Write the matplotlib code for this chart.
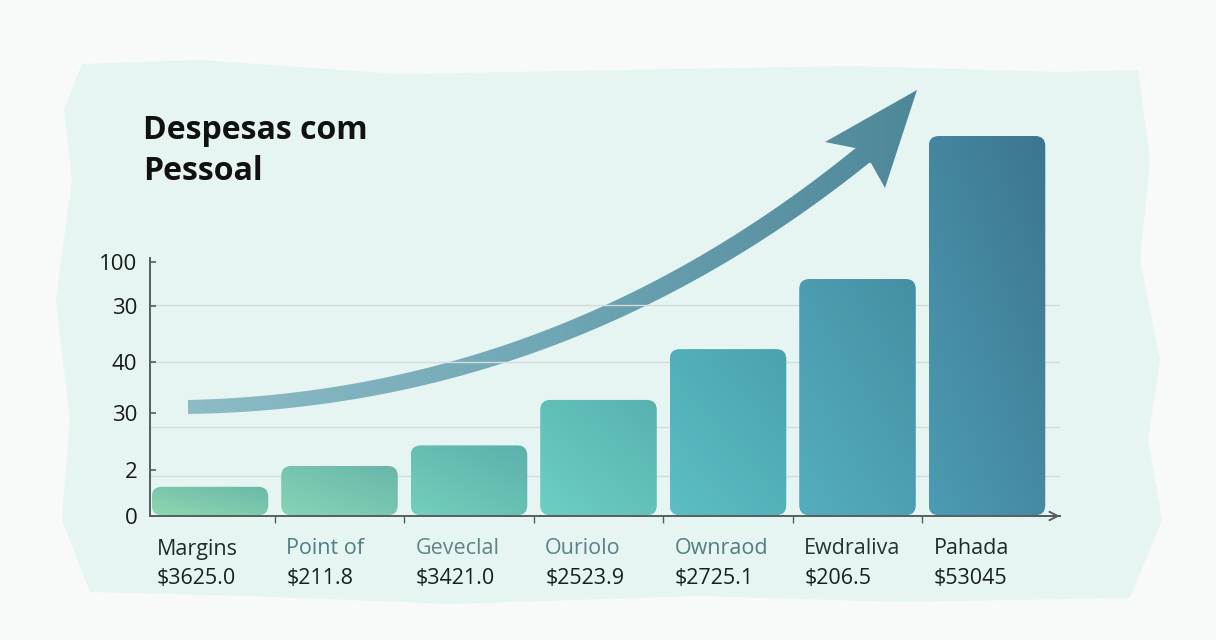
import numpy as np
import matplotlib
matplotlib.use("Agg")
import matplotlib.pyplot as plt
import matplotlib.transforms as mtransforms
from matplotlib.patches import FancyBboxPatch, Polygon
import matplotlib.colors as mcolors

# ---------------- data ----------------
categories = ["Margins", "Point of", "Geveclal", "Ouriolo", "Ownraod", "Ewdraliva", "Pahada"]
value_labels = ["$3625.0", "$211.8", "$3421.0", "$2523.9", "$2725.1", "$206.5", "$53045"]
bar_heights = [11.5, 19.7, 27.8, 45.7, 65.7, 93.3, 149.6]
ytick_values = [0, 18.1, 40.6, 60.6, 82.7, 100]
ytick_labels = ["0", "2", "30", "40", "30", "100"]
grid_levels = [15.7, 35.0, 60.6, 83.1]
title = "Despesas com\nPessoal"

# ---------------- style ----------------
FONT = "Open Sans"
W, H = 1216, 640
fig = plt.figure(figsize=(W / 100, H / 100), dpi=100)
fig.patch.set_facecolor("#f7faf9")

name_colors = ["#1c2b2d", "#4f7f86", "#5f8587", "#5a8189", "#527d82", "#223636", "#1c2b2d"]
bar_cols = [("#8fd8b2", "#6ab8a8"), ("#86d5b6", "#69b6ab"), ("#74cfbb", "#5cb0ab"),
            ("#6ccfc4", "#58b2b0"), ("#5cbfc4", "#4aa2ad"), ("#54aebe", "#458fa3"),
            ("#4c9bb4", "#3d7590")]

# ---------------- background (pixel overlay) ----------------
bg = fig.add_axes([0, 0, 1, 1])
bg.set_xlim(0, W)
bg.set_ylim(H, 0)
bg.axis("off")
paint = [(82, 64), (200, 60), (400, 74), (620, 70), (850, 66), (1060, 72), (1138, 70),
         (1150, 160), (1140, 260), (1160, 360), (1148, 440), (1162, 520), (1130, 598),
         (900, 602), (700, 596), (450, 604), (250, 596), (90, 592), (62, 520),
         (70, 420), (56, 300), (72, 180), (64, 110)]
bg.add_patch(Polygon(paint, closed=True, facecolor="#e6f5f2", edgecolor="none", zorder=0))

# arrow (decoration)
P0, P1, P2 = np.array([188, 407.]), np.array([560, 400.]), np.array([863, 155.])
t = np.linspace(0, 1, 80)[:, None]
c = (1 - t) ** 2 * P0 + 2 * (1 - t) * t * P1 + t ** 2 * P2
d = 2 * (1 - t) * (P1 - P0) + 2 * t * (P2 - P1)
d = d / np.linalg.norm(d, axis=1, keepdims=True)
nrm = np.column_stack([-d[:, 1], d[:, 0]])
wid = (14 + 6 * t) / 2
lower = c + nrm * wid
upper = c - nrm * wid
head = [(855, 148), (825, 142), (917, 90), (885, 188), (871, 163)]
pts = np.vstack([upper, head, lower[::-1]])
arrow = Polygon(pts, closed=True, facecolor="none", edgecolor="none", zorder=2)
bg.add_patch(arrow)
cm_arrow = mcolors.LinearSegmentedColormap.from_list("ar", ["#8dbcc6", "#70a7b5", "#4e8798"])
grad = np.linspace(0, 1, 256)[None, :]
im = bg.imshow(grad, extent=[185, 920, 420, 85], cmap=cm_arrow, aspect="auto", zorder=2,
               interpolation="bilinear")
im.set_clip_path(arrow)
bg.set_xlim(0, W)
bg.set_ylim(H, 0)

# title
fig.text(143 / W, 1 - 114 / H, title, fontsize=23, fontweight="bold", family=FONT,
         color="#111111", ha="left", va="top", linespacing=1.3)

# ---------------- main axes ----------------
px_per_x = 129.5
px_per_y = 2.54
x_left, x_right, y_base = 150, 1060, 516
ymax = 160
ax = fig.add_axes([x_left / W, (H - y_base) / H, (x_right - x_left) / W, ymax * px_per_y / H])
ax.set_facecolor("none")
xlo = (x_left - 210) / px_per_x
xhi = (x_right - 210) / px_per_x

for s in ["top", "right"]:
    ax.spines[s].set_visible(False)
for s in ["left", "bottom"]:
    ax.spines[s].set_color("#555d5f")
    ax.spines[s].set_linewidth(1.4)
ax.spines["left"].set_bounds(0, 101.5)

ax.hlines(grid_levels, xlo, xhi, colors="#d3dcdb", linewidth=1.0, zorder=0)

bw = 0.9
r = 10 / px_per_x
asp = px_per_x / px_per_y
for i, h in enumerate(bar_heights):
    x0 = i - bw / 2
    patch = FancyBboxPatch((x0, 0.3), bw, h - 0.3, boxstyle=f"round,pad=0,rounding_size={r}",
                           mutation_aspect=asp, facecolor="none", edgecolor="none", zorder=2)
    ax.add_patch(patch)
    u = np.linspace(0, 1, 64)[None, :]
    v = np.linspace(0, 1, 64)[:, None]
    g = np.clip(0.45 * u + 0.55 * v, 0, 1)
    cmap = mcolors.LinearSegmentedColormap.from_list(f"b{i}", list(bar_cols[i]))
    imb = ax.imshow(g, extent=[x0, x0 + bw, 0, h], origin="lower", cmap=cmap, vmin=0, vmax=1,
                    aspect="auto", zorder=2, interpolation="bilinear")
    imb.set_clip_path(patch)
    # labels under the axis
    off1 = ax.transData + mtransforms.ScaledTranslation(5 / 100, -33 / 100, fig.dpi_scale_trans)
    off2 = ax.transData + mtransforms.ScaledTranslation(5 / 100, -62 / 100, fig.dpi_scale_trans)
    ax.text(x0, 0, categories[i], transform=off1, ha="left", va="center", fontsize=15.5,
            family=FONT, color=name_colors[i], clip_on=False)
    ax.text(x0, 0, value_labels[i], transform=off2, ha="left", va="center", fontsize=15.5,
            family=FONT, color="#1a1f20", parse_math=False, clip_on=False)

ax.set_xlim(xlo, xhi)
ax.set_ylim(0, ymax)
ax.set_aspect("auto")

ax.set_yticks(ytick_values)
ax.set_yticklabels(ytick_labels, family=FONT, fontsize=16, color="#1a1a1a")
ax.tick_params(axis="y", direction="in", length=4, width=1.2, color="#555d5f", pad=9)
ax.set_xticks([i + 0.5 for i in range(len(categories) - 1)])
ax.set_xticklabels([])
ax.tick_params(axis="x", direction="out", length=5, width=1.0, color="#555d5f")

ax.annotate("", xy=(1.003, 0), xytext=(0.97, 0), xycoords="axes fraction",
            arrowprops=dict(arrowstyle="->,head_length=0.6,head_width=0.3", color="#555d5f", lw=1.4))

fig.savefig("out.png", dpi=100, facecolor=fig.get_facecolor())
